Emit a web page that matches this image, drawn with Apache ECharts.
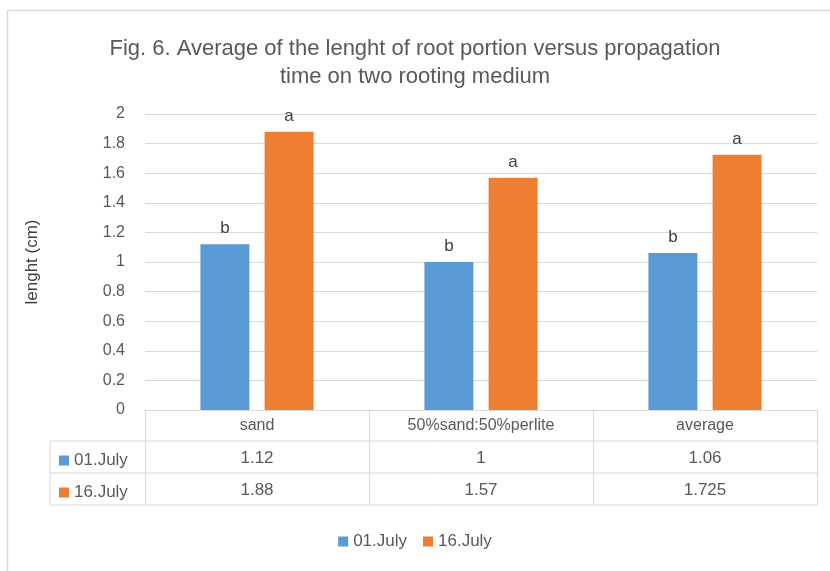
<!DOCTYPE html>
<html><head><meta charset="utf-8">
<script src="https://cdn.jsdelivr.net/npm/echarts@6/dist/echarts.min.js"></script>
<style>html,body{margin:0;padding:0;background:#fff}#c{width:830px;height:571px}</style>
</head><body><div id="c"></div>
<script>
const categories = ['sand', '50%sand:50%perlite', 'average'];
const seriesNames = ['01.July', '16.July'];
const july01 = [1.12, 1, 1.06];
const july16 = [1.88, 1.57, 1.725];
const july01Text = ['1.12', '1', '1.06'];
const july16Text = ['1.88', '1.57', '1.725'];
const july01Letters = ['b', 'b', 'b'];
const july16Letters = ['a', 'a', 'a'];
const yTicks = [0, 0.2, 0.4, 0.6, 0.8, 1, 1.2, 1.4, 1.6, 1.8, 2];

const FONT = "'Liberation Sans', 'DejaVu Sans', sans-serif";
const GRAY = '#595959';
const LINE = '#d9d9d9';
const chart = echarts.init(document.getElementById('c'));

const gridLeft = 145, gridRight = 13, gridTop = 114, gridBottom = 161;
const rowH = 32;

chart.setOption({
  animation: false,
  textStyle: { fontFamily: FONT },
  title: {
    text: 'Fig. 6. Average of the lenght of root portion versus propagation\ntime on two rooting medium',
    left: 'center', top: 30,
    textStyle: { fontFamily: FONT, fontSize: 22, fontWeight: 'normal', color: GRAY, lineHeight: 28 }
  },
  legend: [
    { data: ['01.July', '16.July'], bottom: 16, left: 'center', itemWidth: 10, itemHeight: 10, itemGap: 16, icon: 'rect',
      textStyle: { fontFamily: FONT, fontSize: 17, color: GRAY }, selectedMode: false },
    { data: ['01.July'], left: 54, top: 447, itemWidth: 10, itemHeight: 10, icon: 'rect', itemGap: 4,
      textStyle: { fontFamily: FONT, fontSize: 17, color: GRAY }, selectedMode: false },
    { data: ['16.July'], left: 54, top: 479, itemWidth: 10, itemHeight: 10, icon: 'rect', itemGap: 4,
      textStyle: { fontFamily: FONT, fontSize: 17, color: GRAY }, selectedMode: false }
  ],
  grid: { left: gridLeft, right: gridRight, top: gridTop, bottom: gridBottom },
  xAxis: {
    type: 'category', data: categories,
    axisLine: { lineStyle: { color: LINE } },
    axisTick: { show: true, length: rowH * 3 - 1, lineStyle: { color: LINE } },
    axisLabel: {
      margin: 0, interval: 0,
      formatter: function (v, i) {
        return '{h|' + v + '}\n{v|' + july01Text[i] + '}\n{v|' + july16Text[i] + '}';
      },
      rich: {
        h: { fontFamily: FONT, fontSize: 16, color: GRAY, lineHeight: rowH },
        v: { fontFamily: FONT, fontSize: 17, color: GRAY, lineHeight: rowH }
      }
    }
  },
  yAxis: {
    type: 'value', min: 0, max: 2, interval: 0.2,
    name: 'lenght (cm)', nameLocation: 'middle', nameGap: 104, nameRotate: 90,
    nameTextStyle: { fontFamily: FONT, fontSize: 17, color: '#404040' },
    axisLabel: { fontFamily: FONT, fontSize: 16, color: GRAY, margin: 20,
      formatter: function (v) { return String(Math.round(v * 10) / 10); } },
    axisLine: { show: false }, axisTick: { show: false },
    splitLine: { lineStyle: { color: LINE } }
  },
  series: [
    { name: seriesNames[0], type: 'bar', data: july01, barWidth: 49, barGap: '31%',
      itemStyle: { color: '#5B9BD5' },
      label: { show: true, position: 'top', distance: 7, fontFamily: FONT, fontSize: 17, color: '#404040',
        formatter: function (p) { return july01Letters[p.dataIndex]; } } },
    { name: seriesNames[1], type: 'bar', data: july16, barWidth: 49,
      itemStyle: { color: '#ED7D31' },
      label: { show: true, position: 'top', distance: 7, fontFamily: FONT, fontSize: 17, color: '#404040',
        formatter: function (p) { return july16Letters[p.dataIndex]; } } }
  ]
});

const w = chart.getWidth();
const axisY = chart.getHeight() - gridBottom;
const plotRight = w - gridRight;
const tableLeft = 50;
const rows = [1, 2, 3].map(k => axisY + rowH * k - 1);
const gfx = [];
rows.forEach(y => gfx.push({ type: 'line', shape: { x1: tableLeft, y1: y, x2: plotRight, y2: y }, style: { stroke: LINE, lineWidth: 1 } }));
gfx.push({ type: 'line', shape: { x1: tableLeft, y1: rows[0], x2: tableLeft, y2: rows[2] }, style: { stroke: LINE, lineWidth: 1 } });
gfx.push({ type: 'rect', shape: { x: 7.5, y: 10.5, width: w + 10, height: chart.getHeight() + 10 }, style: { fill: 'none', stroke: LINE, lineWidth: 1.5 } });
chart.setOption({ graphic: gfx });
</script></body></html>
